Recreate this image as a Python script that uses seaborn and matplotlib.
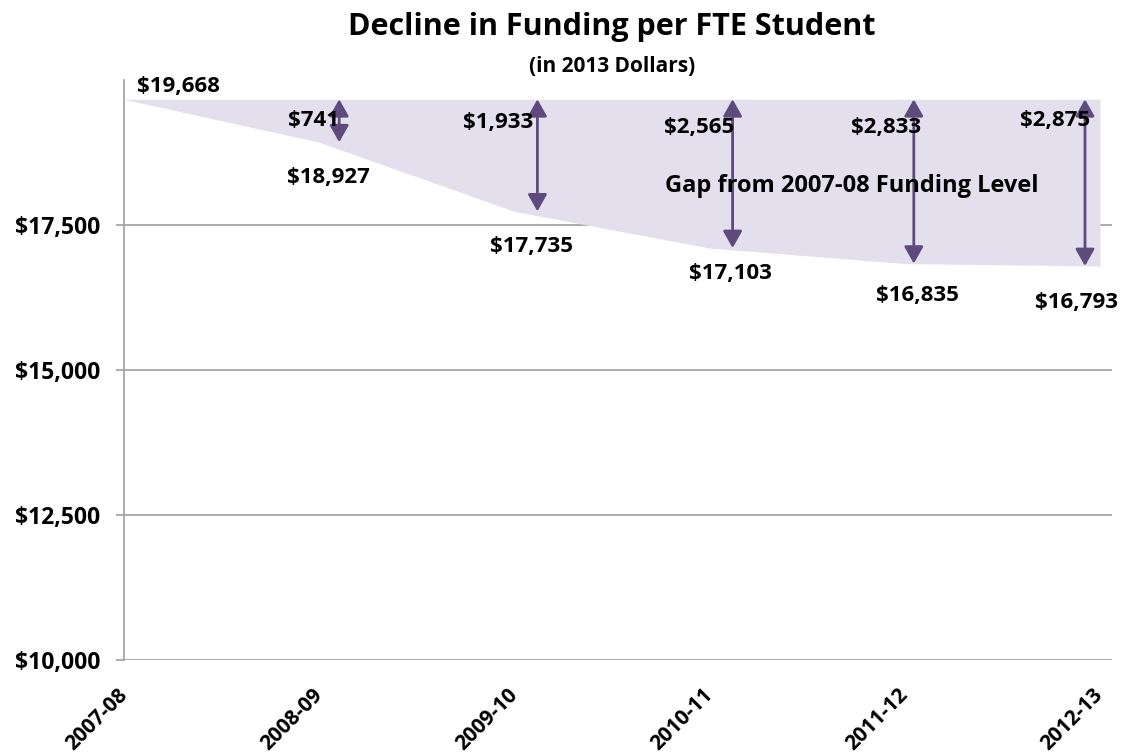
import matplotlib
matplotlib.use("Agg")
import matplotlib.pyplot as plt
import matplotlib.transforms as mtransforms
import seaborn as sns
import pandas as pd

years = ["2007-08", "2008-09", "2009-10", "2010-11", "2011-12", "2012-13"]
funding = [19668, 18927, 17735, 17103, 16835, 16793]
ytick_values = [10000, 12500, 15000, 17500]
ytick_labels = ["$10,000", "$12,500", "$15,000", "$17,500"]
title = "Decline in Funding per FTE Student"
subtitle = "(in 2013 Dollars)"
gap_text = "Gap from 2007-08 Funding Level"

base = funding[0]
gaps = [base - v for v in funding]

sns.set_theme(style="white")
plt.rcParams["font.family"] = ["Open Sans", "DejaVu Sans"]
plt.rcParams["font.weight"] = "bold"
plt.rcParams["text.color"] = "black"
plt.rcParams["xtick.color"] = "black"
plt.rcParams["ytick.color"] = "black"

fill_color = "#e4dfec"
arrow_color = "#5f4a7e"
grid_color = "#a6a6a6"
fs_val = 16
fs_tick = 16.5

fig = plt.figure(figsize=(11.37, 7.55), dpi=100)
ax = fig.add_axes([124 / 1137, 1 - 660 / 755, (1112 - 124) / 1137, (660 - 80) / 755])

df = pd.DataFrame({"x": range(len(years)), "year": years, "funding": funding})
sns.lineplot(data=df, x="x", y="funding", ax=ax, linewidth=0, color=fill_color)
ax.fill_between(df["x"], df["funding"], base, color=fill_color, linewidth=0, zorder=1)

ax.set_xlim(0, 5 + 12 / 195.2)
ax.set_ylim(10000, 20000)
ax.set_yticks(ytick_values)
ax.set_yticklabels(ytick_labels, fontsize=fs_tick, fontweight="bold")
for y in ytick_values:
    ax.axhline(y, color=grid_color, lw=1.3, zorder=0.5)
ax.set_xticks(range(len(years)))
ax.set_xticklabels(years, rotation=45, ha="right", va="center", rotation_mode="anchor",
                   fontsize=15, fontweight="bold")
ax.tick_params(axis="y", length=6, color=grid_color, width=1.3, pad=11, left=True,
               labelcolor="black")
ax.tick_params(axis="x", length=0, pad=23, labelcolor="black")
ax.set_xlabel("")
ax.set_ylabel("")
for s in ["top", "right", "bottom"]:
    ax.spines[s].set_visible(False)
ax.spines["left"].set_color(grid_color)
ax.spines["left"].set_linewidth(1.3)

# arrows
arrow_dx = [0, 20, 23, 23, 9, -15]
for i in range(1, len(years)):
    tr = mtransforms.offset_copy(ax.transData, fig=fig, x=arrow_dx[i], y=0, units="dots")
    ax.annotate("", xy=(i, base), xycoords=tr, xytext=(i, funding[i]), textcoords=tr,
                arrowprops=dict(arrowstyle="<|-|>,head_length=0.85,head_width=0.48",
                                color=arrow_color, lw=2.0, shrinkA=0, shrinkB=0,
                                mutation_scale=12), zorder=3)

# value labels
val_off = [(54, 13), (9, -35), (17, -35), (21, -25), (13, -32), (-23, -36)]
for i, v in enumerate(funding):
    ax.annotate(f"${v:,}", xy=(i, v), xytext=val_off[i], textcoords="offset pixels",
                ha="center", va="center", fontsize=fs_val, fontweight="bold", color="black",
                zorder=4, annotation_clip=False)

gap_off = [None, (-6, -21), (-16, -23), (-10, -28), (-19, -28), (-45, -21)]
for i in range(1, len(years)):
    ax.annotate(f"${gaps[i]:,}", xy=(i, base), xytext=gap_off[i], textcoords="offset pixels",
                ha="center", va="center", fontsize=fs_val, fontweight="bold", color="black",
                zorder=4)

ax.annotate(gap_text, xy=(852 / 1137, 1 - 186 / 755), xycoords="figure fraction",
            ha="center", va="center", fontsize=17, fontweight="bold", color="black", zorder=4)

fig.text(612 / 1137, 1 - 27 / 755, title, ha="center", va="center",
         fontsize=22, fontweight="bold")
fig.text(612 / 1137, 1 - 66 / 755, subtitle, ha="center", va="center",
         fontsize=15, fontweight="bold")

fig.savefig("out.png", dpi=100)
